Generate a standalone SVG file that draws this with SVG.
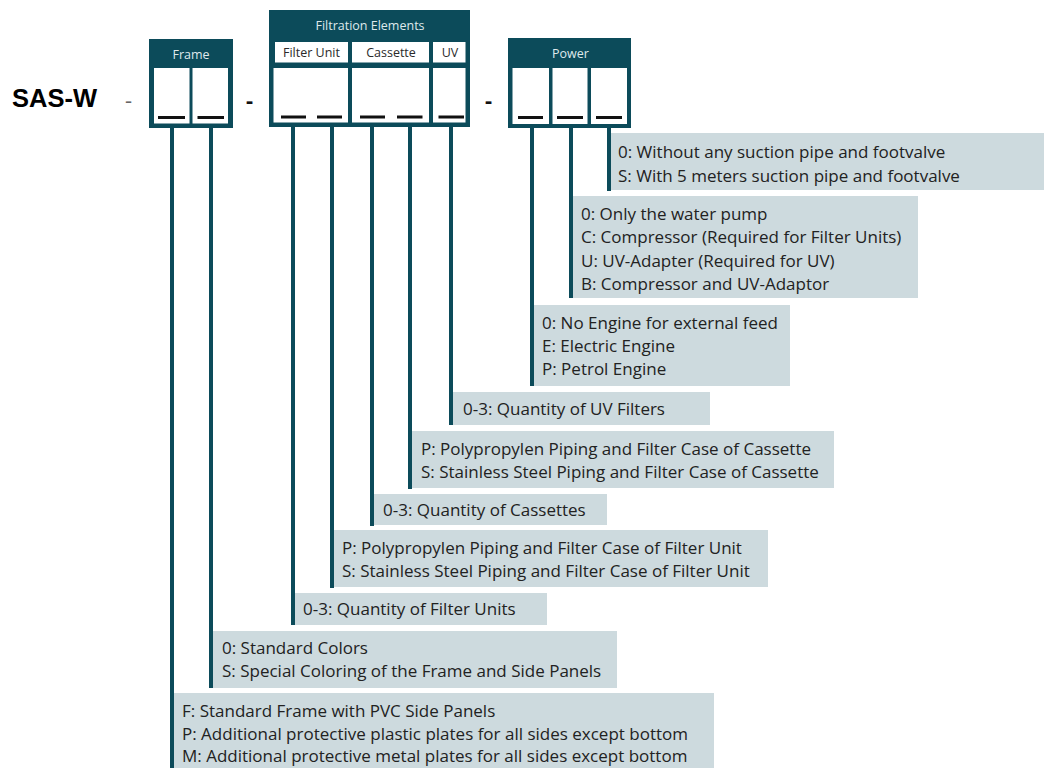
<svg xmlns="http://www.w3.org/2000/svg" width="1048" height="768" viewBox="0 0 1048 768">
<style>
.hdr{fill:#0c4b5a}
.cell{fill:#ffffff}
.dash{fill:#111111}
.ht{font-family:"Open Sans","Noto Sans",sans-serif;font-size:12.5px;fill:#dfe9ec;text-anchor:middle}
.st{font-family:"Open Sans","Noto Sans",sans-serif;font-size:12.5px;fill:#2a2a2a;text-anchor:middle}
.box{fill:#cddade}
.dt{font-family:"Open Sans","Noto Sans",sans-serif;font-size:17px;fill:#222222}
.conn{stroke:#0c4b5a;stroke-width:4;fill:none}
.sep{font-family:"Open Sans","Liberation Sans",sans-serif;font-size:22px;font-weight:bold;fill:#111111}
</style>
<rect width="1048" height="768" fill="#ffffff"/>
<text x="12" y="107" font-family="Liberation Sans, Arial, sans-serif" font-weight="bold" font-size="25.5" fill="#000000">SAS-W</text>
<text x="125" y="108" font-family="Open Sans, sans-serif" font-size="22" fill="#666666">-</text>
<text class="sep" x="246" y="108">-</text>
<text class="sep" x="485" y="108">-</text>

<g id="descriptions">
<g id="d-power3"><rect class="box" x="607" y="133" width="437" height="57"/>
<text class="dt" x="618" y="158">0: Without any suction pipe and footvalve</text>
<text class="dt" x="618" y="181.5">S: With 5 meters suction pipe and footvalve</text></g>
<g id="d-power2"><rect class="box" x="569" y="196" width="349" height="102"/>
<text class="dt" x="581" y="220">0: Only the water pump</text>
<text class="dt" x="581" y="243.3">C: Compressor (Required for Filter Units)</text>
<text class="dt" x="581" y="266.6">U: UV-Adapter (Required for UV)</text>
<text class="dt" x="581" y="289.9">B: Compressor and UV-Adaptor</text></g>
<g id="d-power1"><rect class="box" x="530" y="305" width="260" height="81"/>
<text class="dt" x="542" y="328.5">0: No Engine for external feed</text>
<text class="dt" x="542" y="351.8">E: Electric Engine</text>
<text class="dt" x="542" y="375">P: Petrol Engine</text></g>
<g id="d-uv"><rect class="box" x="449" y="392" width="261" height="33"/>
<text class="dt" x="463" y="414.5">0-3: Quantity of UV Filters</text></g>
<g id="d-cassette2"><rect class="box" x="408" y="431" width="426" height="57"/>
<text class="dt" x="421" y="454.5">P: Polypropylen Piping and Filter Case of Cassette</text>
<text class="dt" x="421" y="477.8">S: Stainless Steel Piping and Filter Case of Cassette</text></g>
<g id="d-cassette1"><rect class="box" x="370" y="494" width="237" height="31"/>
<text class="dt" x="383" y="515.5">0-3: Quantity of Cassettes</text></g>
<g id="d-filter2"><rect class="box" x="330" y="530" width="438" height="57"/>
<text class="dt" x="342" y="553.5">P: Polypropylen Piping and Filter Case of Filter Unit</text>
<text class="dt" x="342" y="576.8">S: Stainless Steel Piping and Filter Case of Filter Unit</text></g>
<g id="d-filter1"><rect class="box" x="291" y="593" width="256" height="32"/>
<text class="dt" x="303" y="614.5">0-3: Quantity of Filter Units</text></g>
<g id="d-frame2"><rect class="box" x="209" y="631" width="408" height="57"/>
<text class="dt" x="222" y="654">0: Standard Colors</text>
<text class="dt" x="222" y="677.3">S: Special Coloring of the Frame and Side Panels</text></g>
<g id="d-frame1"><rect class="box" x="170" y="693" width="544" height="80"/>
<text class="dt" x="182" y="716.7">F: Standard Frame with PVC Side Panels</text>
<text class="dt" x="182" y="739.5">P: Additional protective plastic plates for all sides except bottom</text>
<text class="dt" x="182" y="762">M: Additional protective metal plates for all sides except bottom</text></g>
</g>

<g id="connectors">
<line class="conn" x1="172" y1="126" x2="172" y2="770"/>
<line class="conn" x1="211" y1="126" x2="211" y2="688"/>
<line class="conn" x1="293" y1="125" x2="293" y2="625"/>
<line class="conn" x1="332" y1="125" x2="332" y2="588"/>
<line class="conn" x1="372" y1="125" x2="372" y2="526"/>
<line class="conn" x1="410" y1="125" x2="410" y2="489"/>
<line class="conn" x1="451" y1="125" x2="451" y2="425"/>
<line class="conn" x1="532" y1="126" x2="532" y2="386"/>
<line class="conn" x1="571" y1="126" x2="571" y2="298"/>
<line class="conn" x1="609" y1="126" x2="609" y2="191"/>
</g>

<g id="frame">
<rect class="hdr" x="149" y="39" width="84" height="89"/>
<rect class="cell" x="154" y="68" width="35.5" height="55.5"/>
<rect class="cell" x="192.5" y="68" width="35.5" height="55.5"/>
<rect class="dash" x="158" y="116" width="27" height="3"/>
<rect class="dash" x="197.5" y="116" width="26.5" height="3"/>
<text class="ht" x="191" y="59">Frame</text>
</g>

<g id="filtration">
<rect class="hdr" x="269" y="10" width="201" height="117"/>
<rect class="cell" x="275" y="42" width="73" height="20.5"/>
<rect class="cell" x="352" y="42" width="77" height="20.5"/>
<rect class="cell" x="433" y="42" width="32.5" height="20.5"/>
<rect class="cell" x="273.5" y="68" width="74.5" height="54.5"/>
<rect class="cell" x="352" y="68" width="77" height="54.5"/>
<rect class="cell" x="433" y="68" width="32.5" height="54.5"/>
<rect class="dash" x="281" y="115.5" width="25" height="3"/>
<rect class="dash" x="317" y="115.5" width="25" height="3"/>
<rect class="dash" x="360" y="115.5" width="25" height="3"/>
<rect class="dash" x="397" y="115.5" width="25.5" height="3"/>
<rect class="dash" x="438.5" y="115.5" width="25.5" height="3"/>
<text class="ht" x="370" y="30">Filtration Elements</text>
<text class="st" x="311.5" y="57">Filter Unit</text>
<text class="st" x="391" y="57">Cassette</text>
<text class="st" x="450" y="57">UV</text>
</g>

<g id="power">
<rect class="hdr" x="508" y="38" width="123" height="90"/>
<rect class="cell" x="512.5" y="68" width="36.5" height="56"/>
<rect class="cell" x="552.5" y="68" width="35" height="56"/>
<rect class="cell" x="591" y="68" width="36" height="56"/>
<rect class="dash" x="518" y="116" width="25" height="3"/>
<rect class="dash" x="557" y="116" width="26" height="3"/>
<rect class="dash" x="596" y="116" width="26" height="3"/>
<text class="ht" x="570.5" y="57.5">Power</text>
</g>
</svg>
